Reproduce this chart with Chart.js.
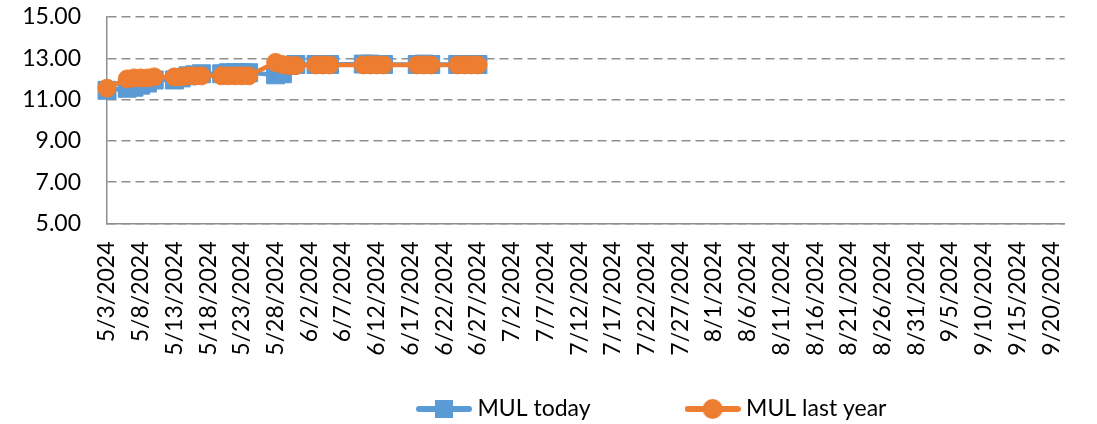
<!DOCTYPE html>
<html>
<head>
<meta charset="utf-8">
<script src="https://cdn.jsdelivr.net/npm/chart.js@4.4.1/dist/chart.umd.min.js"></script>
<style>
  html, body { margin: 0; padding: 0; background: #ffffff; }
  #wrap { width: 1097px; height: 424px; }
</style>
</head>
<body>
<div id="wrap"><canvas id="c" width="1097" height="424"></canvas></div>
<script>
// ---- data ----
const seriesNames = ['MUL today', 'MUL last year'];
const axisStart = '5/3/2024';
const axisDayCount = 143;          // 5/3/2024 ... 9/22/2024, one category per day
const labelEvery = 5;              // a tick label every 5 days
const yTicks = [5, 7, 9, 11, 13, 15];

const tradeDates = [
  '5/3/2024',
  '5/6/2024','5/7/2024','5/8/2024','5/9/2024','5/10/2024',
  '5/13/2024','5/14/2024','5/15/2024','5/16/2024','5/17/2024',
  '5/20/2024','5/21/2024','5/22/2024','5/23/2024','5/24/2024',
  '5/28/2024','5/29/2024','5/30/2024','5/31/2024',
  '6/3/2024','6/4/2024','6/5/2024',
  '6/10/2024','6/11/2024','6/12/2024','6/13/2024',
  '6/18/2024','6/19/2024','6/20/2024',
  '6/24/2024','6/25/2024','6/26/2024','6/27/2024'
];
const todayValues = [
  11.45,
  11.55, 11.60, 11.70, 11.80, 11.95,
  11.95, 12.05, 12.15, 12.20, 12.25,
  12.25, 12.30, 12.30, 12.30, 12.30,
  12.20, 12.25, 12.65, 12.70,
  12.70, 12.70, 12.70,
  12.72, 12.72, 12.70, 12.70,
  12.70, 12.72, 12.70,
  12.70, 12.70, 12.70, 12.70
];
const lastYearValues = [
  11.55,
  12.00, 12.05, 12.05, 12.05, 12.10,
  12.10, 12.10, 12.15, 12.15, 12.15,
  12.15, 12.15, 12.15, 12.15, 12.15,
  12.80, 12.70, 12.65, 12.65,
  12.68, 12.68, 12.68,
  12.68, 12.68, 12.68, 12.68,
  12.68, 12.68, 12.68,
  12.68, 12.68, 12.68, 12.68
];

// ---- category axis (calendar days) ----
const axisDates = [];
(function () {
  const p = axisStart.split('/').map(Number);
  const d = new Date(p[2], p[0] - 1, p[1]);
  for (let i = 0; i < axisDayCount; i++) {
    axisDates.push((d.getMonth() + 1) + '/' + d.getDate() + '/' + d.getFullYear());
    d.setDate(d.getDate() + 1);
  }
})();

// ---- styles ----
const BLUE = '#5B9BD5';
const ORANGE = '#ED7D31';
const GRID = '#8f8f8f';
const FONT = { family: 'Lato, "Noto Sans", sans-serif', size: 23 };
const LEGEND_PAD = 100;

function legendIcon(color, shape) {
  const cv = document.createElement('canvas');
  cv.width = 56; cv.height = 22;
  const g = cv.getContext('2d');
  g.strokeStyle = color; g.fillStyle = color;
  g.lineWidth = 6; g.lineCap = 'round';
  g.beginPath(); g.moveTo(3, 11); g.lineTo(53, 11); g.stroke();
  if (shape === 'rect') {
    g.fillRect(28 - 9, 2, 18, 18);
  } else {
    g.beginPath(); g.arc(28, 11, 10, 0, Math.PI * 2); g.fill();
  }
  return cv;
}
const legendIcons = [legendIcon(BLUE, 'rect'), legendIcon(ORANGE, 'circle')];

const legendPlacer = {
  id: 'legendPlacer',
  afterLayout(chart) {
    const lg = chart.legend;
    if (!lg) return;
    const lw = lg.lineWidths ? lg.lineWidths[0] : 0;
    const wantStart = 422;
    const delta = (2 * wantStart - LEGEND_PAD + lw - (lg.left + lg.right)) / 2;
    lg.left += delta; lg.right += delta;
    lg.top = 409 - FONT.size / 2 - LEGEND_PAD;
    lg.bottom = chart.height;
    lg.height = lg.bottom - lg.top;
  }
};

new Chart(document.getElementById('c'), {
  type: 'line',
  data: {
    labels: axisDates,
    datasets: [
      {
        label: seriesNames[0],
        data: tradeDates.map((d, i) => ({ x: d, y: todayValues[i] })),
        borderColor: BLUE, backgroundColor: BLUE,
        borderWidth: 4.5,
        pointStyle: 'rect', pointRadius: 12.7,
        pointBorderColor: BLUE, pointBackgroundColor: BLUE, pointBorderWidth: 1,
        tension: 0, order: 1
      },
      {
        label: seriesNames[1],
        data: tradeDates.map((d, i) => ({ x: d, y: lastYearValues[i] })),
        borderColor: ORANGE, backgroundColor: ORANGE,
        borderWidth: 4.5,
        pointStyle: 'circle', pointRadius: 9,
        pointBorderColor: ORANGE, pointBackgroundColor: ORANGE, pointBorderWidth: 1,
        tension: 0, order: 0
      }
    ]
  },
  options: {
    responsive: false,
    animation: false,
    events: [],
    layout: { padding: { left: 0, right: 14, top: 17, bottom: 0 } },
    scales: {
      x: {
        type: 'category',
        offset: false,
        grid: { display: false, drawTicks: false },
        border: { display: true, color: GRID, width: 1.5 },
        ticks: {
          autoSkip: false,
          minRotation: 90, maxRotation: 90,
          padding: 18,
          color: '#000',
          font: FONT,
          callback: function (v, i) { return i % labelEvery === 0 ? axisDates[i] : null; }
        },
        afterFit(scale) { scale.height = 140.5; }
      },
      y: {
        min: yTicks[0], max: yTicks[yTicks.length - 1],
        afterBuildTicks(scale) { scale.ticks = yTicks.map(v => ({ value: v })); },
        grid: { color: GRID, lineWidth: 1.5, drawTicks: false },
        border: { display: true, color: GRID, width: 1.5, dash: [9, 5] },
        ticks: {
          padding: 26,
          color: '#000',
          font: FONT,
          callback: v => Number(v).toFixed(2)
        },
        afterFit(scale) {
          scale.width = 107;
          scale.paddingTop = 12;
          scale.paddingBottom = 12;
        }
      }
    },
    plugins: {
      tooltip: { enabled: false },
      legend: {
        position: 'bottom',
        maxHeight: 60,
        labels: {
          usePointStyle: true,
          pointStyleWidth: 44,
          boxHeight: 23,
          padding: LEGEND_PAD,
          color: '#000',
          font: FONT,
          generateLabels(chart) {
            return chart.data.datasets.map((ds, i) => ({
              text: ds.label,
              pointStyle: legendIcons[i],
              fillStyle: ds.borderColor,
              strokeStyle: ds.borderColor,
              lineWidth: 0,
              fontColor: '#000',
              hidden: !chart.isDatasetVisible(i),
              datasetIndex: i
            }));
          }
        }
      }
    }
  },
  plugins: [legendPlacer]
});
</script>
</body>
</html>
